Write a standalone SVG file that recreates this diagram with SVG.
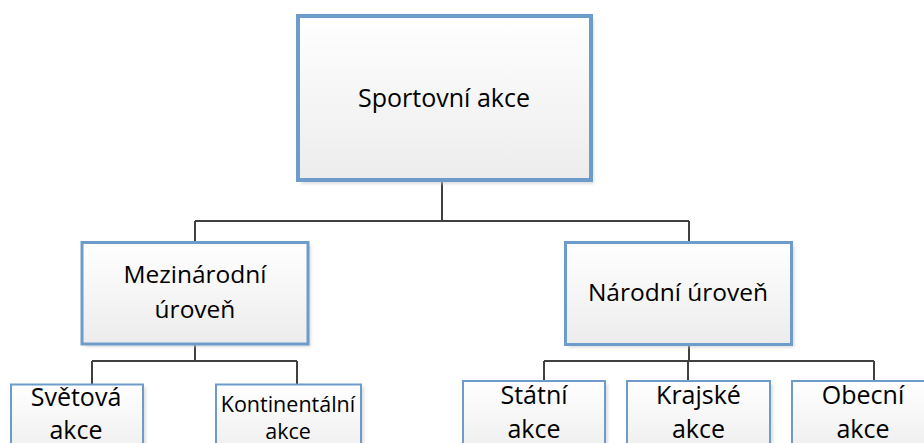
<svg xmlns="http://www.w3.org/2000/svg" width="924" height="443" viewBox="0 0 924 443">
<defs>
<linearGradient id="g" x1="0" y1="0" x2="0" y2="1">
<stop offset="0" stop-color="#ffffff"/>
<stop offset="1" stop-color="#ececec"/>
</linearGradient>
<filter id="sh" x="-10%" y="-10%" width="130%" height="130%">
<feGaussianBlur stdDeviation="1.5"/>
</filter>
</defs>
<style>
.box{fill:url(#g);stroke:#6d9ccb;}
.shadow{fill:#c8c8c8;opacity:0.6;filter:url(#sh);}
.t{font-family:"Open Sans","Noto Sans",sans-serif;fill:#000;text-anchor:middle;}
.conn{fill:none;stroke:#404040;stroke-width:2;}
</style>
<rect width="924" height="443" fill="#ffffff"/>
<g id="connectors">
<path class="conn" d="M442 182 V221 M195 221 H689 M195 221 V241 M689 221 V241"/>
<path class="conn" d="M195 345 V361 M92 361 H297 M92 361 V384 M297 361 V384"/>
<path class="conn" d="M689 346 V361 M544 361 H874 M544 361 V380 M688 361 V380 M874 361 V380"/>
</g>
<g id="sportovni-akce">
<rect class="shadow" x="301" y="19" width="293" height="165"/>
<rect class="box" x="298" y="16" width="293" height="164" stroke-width="4"/>
<text class="t" x="444" y="107" font-size="25">Sportovní akce</text>
</g>
<g id="mezinarodni-uroven">
<rect class="shadow" x="85" y="245" width="226" height="102"/>
<rect class="box" x="82" y="242.5" width="226" height="101.5" stroke-width="3"/>
<text class="t" x="195" y="283" font-size="24.5">Mezinárodní</text>
<text class="t" x="195" y="318" font-size="24.5">úroveň</text>
</g>
<g id="narodni-uroven">
<rect class="shadow" x="568.5" y="245.5" width="226" height="102"/>
<rect class="box" x="565.5" y="242.5" width="226" height="102" stroke-width="3"/>
<text class="t" x="678" y="301" font-size="24.5">Národní úroveň</text>
</g>
<g id="svetova-akce">
<rect class="shadow" x="14" y="387" width="132" height="80"/>
<rect class="box" x="11" y="384.5" width="132" height="80" stroke-width="2"/>
<text class="t" x="76" y="406" font-size="25">Světová</text>
<text class="t" x="76" y="439" font-size="25">akce</text>
</g>
<g id="kontinentalni-akce">
<rect class="shadow" x="219" y="387" width="145" height="80"/>
<rect class="box" x="216" y="384.5" width="145" height="80" stroke-width="2"/>
<text class="t" x="288" y="412" font-size="21.5">Kontinentální</text>
<text class="t" x="288" y="439" font-size="21.5">akce</text>
</g>
<g id="statni-akce">
<rect class="shadow" x="466" y="384" width="142" height="80"/>
<rect class="box" x="463" y="381" width="142" height="80" stroke-width="2"/>
<text class="t" x="534" y="404" font-size="25">Státní</text>
<text class="t" x="534" y="438" font-size="25">akce</text>
</g>
<g id="krajske-akce">
<rect class="shadow" x="630" y="384" width="143" height="80"/>
<rect class="box" x="627" y="381" width="143" height="80" stroke-width="2"/>
<text class="t" x="698.5" y="404" font-size="25">Krajské</text>
<text class="t" x="698.5" y="438" font-size="25">akce</text>
</g>
<g id="obecni-akce">
<rect class="shadow" x="795" y="384" width="143" height="80"/>
<rect class="box" x="792" y="381" width="143" height="80" stroke-width="2"/>
<text class="t" x="863" y="404" font-size="25">Obecní</text>
<text class="t" x="863" y="438" font-size="25">akce</text>
</g>
</svg>
